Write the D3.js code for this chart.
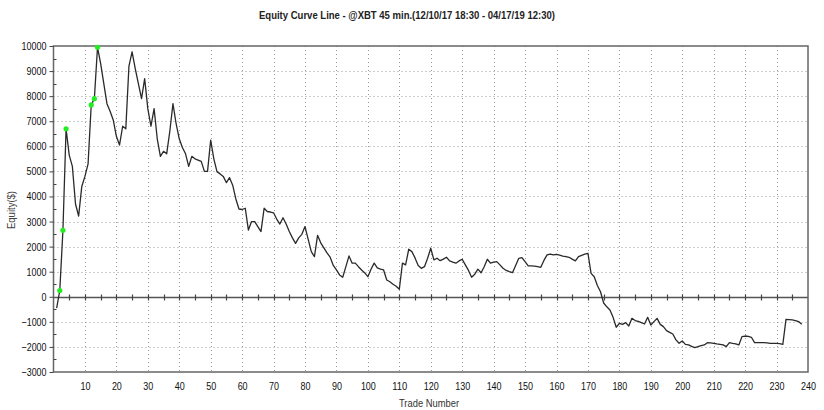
<!DOCTYPE html>
<html>
<head>
<meta charset="utf-8">
<script src="https://cdn.jsdelivr.net/npm/d3@7"></script>
<style>
  html, body { margin: 0; padding: 0; background: #fff; }
  svg { display: block; }
  text { font-family: "Liberation Sans", Arial, sans-serif; }
</style>
</head>
<body>
<svg id="chart" width="824" height="410"></svg>
<script>
const chartTitle = "Equity Curve Line - @XBT 45 min.(12/10/17 18:30 - 04/17/19 12:30)";
const xLabel = "Trade Number";
const yLabel = "Equity($)";

// x / y tick values
const xTicks = [10, 20, 30, 40, 50, 60, 70, 80, 90, 100, 110, 120, 130, 140, 150, 160, 170, 180, 190, 200, 210, 220, 230, 240];
const yTicks = [-3000, -2000, -1000, 0, 1000, 2000, 3000, 4000, 5000, 6000, 7000, 8000, 9000, 10000];

// closed equity after each trade (trade 1..238)
const equity = [
  -450, 250, 2650, 6700, 5650, 5200, 3700, 3220, 4400, 4800,
  5300, 7650, 7900, 9950, 9300, 8500, 7700, 7400, 7050, 6400,
  6050, 6800, 6700, 9200, 9770, 9100, 8500, 7900, 8700, 7500,
  6800, 7500, 6300, 5600, 5800, 5700, 6600, 7700, 6900, 6300,
  5950, 5700, 5200, 5600, 5500, 5450, 5400, 5000, 5000, 6250,
  5500, 4990, 4900, 4800, 4550, 4750, 4450, 3900, 3500, 3480,
  3530, 2660, 3000, 3000, 2800, 2600, 3530, 3400, 3380, 3350,
  3100, 2900, 3150, 2900, 2600, 2350, 2130, 2350, 2490, 2800,
  2300, 1800, 1600, 2450, 2150, 1950, 1750, 1580, 1250, 1070,
  870, 780, 1200, 1630, 1340, 1340, 1200, 1070, 950, 800,
  1100, 1340, 1150, 1100, 1070, 670, 600, 500, 420, 300,
  1340, 1270, 1895, 1800, 1550, 1250, 1135, 1200, 1535, 1935,
  1470, 1535, 1440, 1500, 1575, 1430, 1380, 1340, 1430, 1495,
  1270, 1050, 780, 900, 1100, 960, 1200, 1495, 1340, 1380,
  1400, 1270, 1135, 1050, 1000, 960, 1250, 1535, 1560, 1400,
  1230, 1230, 1220, 1200, 1175, 1450, 1670, 1705, 1670, 1695,
  1660, 1620, 1600, 1575, 1500, 1430, 1600, 1650, 1700, 1735,
  935, 800, 450, 200, -250, -400, -525, -820, -1215, -1060,
  -1100, -1030, -1165, -860, -950, -980, -1030, -1085, -820, -1125,
  -990, -860, -1100, -1190, -1350, -1420, -1485, -1720, -1855, -1760,
  -1900, -1920, -1980, -2030, -1990, -1950, -1920, -1830, -1840, -1855,
  -1880, -1895, -1920, -1990, -1830, -1860, -1880, -1920, -1590, -1565,
  -1580, -1615, -1830, -1830, -1830, -1830, -1840, -1855, -1855, -1855,
  -1870, -1895, -900, -910, -925, -950, -990, -1100
];

const svg = d3.select("#chart");

const plotLeft = 53.5, plotRight = 808, plotTop = 46, plotBottom = 372;

const x = d3.scaleLinear().domain([0, 240]).range([plotLeft, plotRight]);
const y = d3.scaleLinear().domain([-3000, 10000]).range([plotBottom, plotTop]);

const data = equity.map((v, i) => ({ trade: i + 1, value: v }));

// new equity highs get a green dot
let peak = 0;
const highs = data.filter((d) => {
  if (d.value > peak) { peak = d.value; return true; }
  return false;
});

// the original uses a condensed face, so squeeze labels a bit
const narrow = (sel, perChar) =>
  sel.attr("textLength", function () { return this.textContent.length * perChar; })
    .attr("lengthAdjust", "spacingAndGlyphs");

// title
svg.append("text")
  .attr("x", 407)
  .attr("y", 19)
  .attr("text-anchor", "middle")
  .attr("textLength", 296)
  .attr("lengthAdjust", "spacingAndGlyphs")
  .style("font-size", "11px")
  .style("font-weight", "bold")
  .attr("fill", "#222")
  .text(chartTitle);

// dotted grid
const grid = svg.append("g").attr("stroke", "#9a9a9a").attr("stroke-dasharray", "1,3").attr("stroke-width", 1);
grid.selectAll("line.gx")
  .data(xTicks.filter((t) => t < 240))
  .join("line")
  .attr("class", "gx")
  .attr("x1", (d) => Math.round(x(d)) + 0.5)
  .attr("x2", (d) => Math.round(x(d)) + 0.5)
  .attr("y1", plotTop)
  .attr("y2", plotBottom);
grid.selectAll("line.gy")
  .data(yTicks.filter((t) => t !== 0 && t > -3000 && t < 10000))
  .join("line")
  .attr("class", "gy")
  .attr("x1", plotLeft)
  .attr("x2", plotRight)
  .attr("y1", (d) => Math.round(y(d)) + 0.5)
  .attr("y2", (d) => Math.round(y(d)) + 0.5);

// zero line with trade ticks
const y0 = Math.round(y(0)) + 0.5;
svg.append("line")
  .attr("x1", plotLeft).attr("x2", plotRight)
  .attr("y1", y0).attr("y2", y0)
  .attr("stroke", "#555").attr("stroke-width", 1.5);
svg.append("g")
  .selectAll("line")
  .data(d3.range(5, 240, 5))
  .join("line")
  .attr("x1", (d) => Math.round(x(d)) + 0.5)
  .attr("x2", (d) => Math.round(x(d)) + 0.5)
  .attr("y1", y0 - 3)
  .attr("y2", y0 + 3)
  .attr("stroke", "#444")
  .attr("stroke-width", 1.2);

// frame
svg.append("rect")
  .attr("x", plotLeft).attr("y", plotTop)
  .attr("width", plotRight - plotLeft).attr("height", plotBottom - plotTop)
  .attr("fill", "none")
  .attr("stroke", "#666")
  .attr("stroke-width", 1.5);

// y axis
const yAxis = svg.append("g")
  .attr("transform", `translate(${plotLeft},0)`)
  .call(d3.axisLeft(y).tickValues(yTicks).tickSize(4).tickPadding(3).tickFormat(d3.format("d")));
yAxis.select(".domain").remove();
yAxis.selectAll("line").attr("stroke", "#444");
yAxis.selectAll("text").style("font-size", "11px").attr("fill", "#111")
  .style("font-family", '"Liberation Sans", Arial, sans-serif')
  .call(narrow, 5);

// minor y ticks every 500 on the inside
svg.append("g")
  .selectAll("line")
  .data(d3.range(-2500, 10000, 1000))
  .join("line")
  .attr("x1", plotLeft)
  .attr("x2", plotLeft + 3)
  .attr("y1", (d) => Math.round(y(d)) + 0.5)
  .attr("y2", (d) => Math.round(y(d)) + 0.5)
  .attr("stroke", "#444");

// x labels below the frame
const xAxis = svg.append("g")
  .attr("transform", `translate(0,${plotBottom})`)
  .call(d3.axisBottom(x).tickValues(xTicks).tickSize(0).tickPadding(10).tickFormat(d3.format("d")));
xAxis.select(".domain").remove();
xAxis.selectAll("text").style("font-size", "11px").attr("fill", "#111")
  .style("font-family", '"Liberation Sans", Arial, sans-serif')
  .call(narrow, 5);

// axis titles
svg.append("text")
  .attr("x", 429)
  .attr("y", 407)
  .attr("text-anchor", "middle")
  .attr("textLength", 60)
  .attr("lengthAdjust", "spacingAndGlyphs")
  .style("font-size", "11px")
  .attr("fill", "#333")
  .text(xLabel);
svg.append("text")
  .attr("transform", `translate(15,210) rotate(-90)`)
  .attr("text-anchor", "middle")
  .attr("textLength", 38)
  .attr("lengthAdjust", "spacingAndGlyphs")
  .style("font-size", "11px")
  .attr("fill", "#444")
  .text(yLabel);

// equity curve
const line = d3.line()
  .x((d) => x(d.trade))
  .y((d) => y(d.value));
svg.append("path")
  .datum(data)
  .attr("fill", "none")
  .attr("stroke", "#2a2a2a")
  .attr("stroke-width", 1.3)
  .attr("stroke-linejoin", "round")
  .attr("d", line);

// new highs
svg.append("g")
  .selectAll("circle")
  .data(highs)
  .join("circle")
  .attr("cx", (d) => x(d.trade))
  .attr("cy", (d) => y(d.value))
  .attr("r", 2.6)
  .attr("fill", "#22ee22");
</script>
</body>
</html>
